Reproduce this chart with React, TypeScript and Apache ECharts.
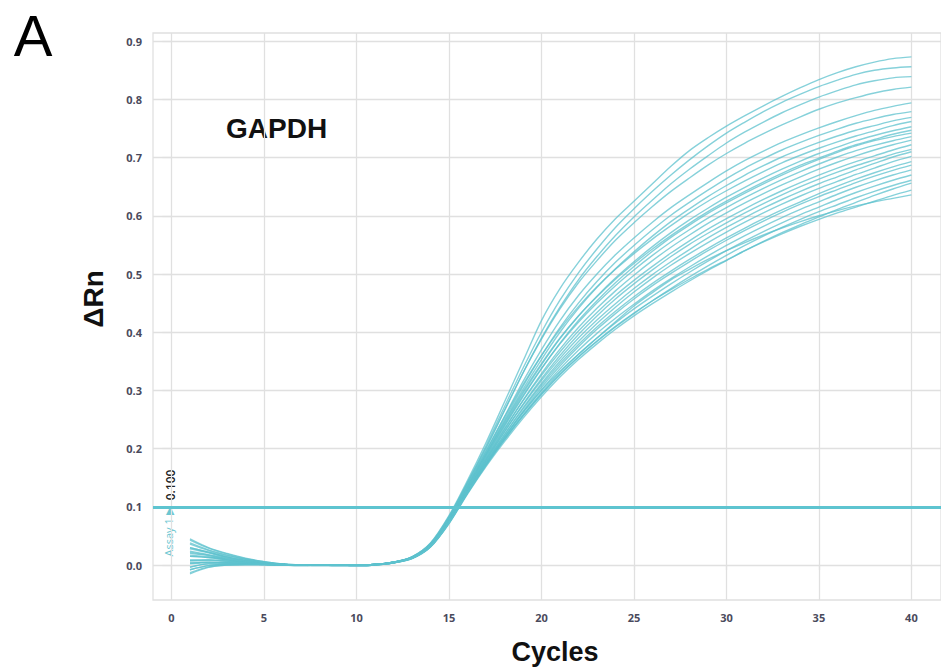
import React, { useEffect, useRef } from "react";
import * as echarts from "echarts";

const cycles = [1, 2, 3, 4, 5, 6, 7, 8, 9, 10, 11, 12, 13, 14, 15, 16, 17, 18, 19, 20, 21, 22, 23, 24, 25, 26, 27, 28, 29, 30, 31, 32, 33, 34, 35, 36, 37, 38, 39, 40];
const xTicks = [0, 5, 10, 15, 20, 25, 30, 35, 40];
const yTicks = [0, 0.1, 0.2, 0.3, 0.4, 0.5, 0.6, 0.7, 0.8, 0.9];
const threshold = 0.1;

const well01 = [0.030, 0.022, 0.014, 0.008, 0.004, 0.001, 0, 0, 0, -0.001, 0, 0.005, 0.014, 0.038, 0.085, 0.145, 0.21, 0.28, 0.35, 0.42, 0.475, 0.52, 0.56, 0.595, 0.625, 0.655, 0.685, 0.712, 0.734, 0.754, 0.772, 0.789, 0.805, 0.82, 0.834, 0.846, 0.856, 0.864, 0.87, 0.873];
const well02 = [0.045, 0.03, 0.02, 0.012, 0.006, 0.002, 0, -0.001, -0.001, -0.001, 0, 0.004, 0.014, 0.037, 0.083, 0.142, 0.205, 0.272, 0.338, 0.40, 0.455, 0.502, 0.543, 0.58, 0.612, 0.642, 0.67, 0.696, 0.72, 0.742, 0.761, 0.779, 0.795, 0.809, 0.822, 0.833, 0.843, 0.85, 0.854, 0.856];
const well03 = [0.015, 0.013, 0.009, 0.005, 0.003, 0.001, 0, 0, 0, 0, 0.001, 0.005, 0.013, 0.036, 0.082, 0.14, 0.2, 0.265, 0.33, 0.39, 0.443, 0.49, 0.53, 0.566, 0.598, 0.627, 0.655, 0.68, 0.703, 0.725, 0.744, 0.761, 0.777, 0.791, 0.804, 0.815, 0.825, 0.832, 0.837, 0.839];
const well04 = [0.038, 0.026, 0.017, 0.010, 0.005, 0.001, 0, 0, -0.001, -0.001, 0, 0.004, 0.014, 0.037, 0.083, 0.141, 0.202, 0.266, 0.33, 0.388, 0.44, 0.485, 0.523, 0.558, 0.588, 0.616, 0.642, 0.665, 0.687, 0.707, 0.725, 0.741, 0.756, 0.77, 0.783, 0.794, 0.803, 0.811, 0.817, 0.821];
const well05 = [0.003, 0.005, 0.004, 0.003, 0.002, 0, -0.001, 0, 0, 0, 0.001, 0.004, 0.013, 0.035, 0.08, 0.137, 0.195, 0.255, 0.315, 0.37, 0.42, 0.463, 0.5, 0.533, 0.562, 0.589, 0.614, 0.636, 0.657, 0.677, 0.695, 0.711, 0.726, 0.739, 0.751, 0.762, 0.772, 0.781, 0.788, 0.794];
const well06 = [0.022, 0.017, 0.011, 0.007, 0.003, 0.001, 0, 0, 0, 0, 0.001, 0.005, 0.013, 0.035, 0.079, 0.135, 0.192, 0.25, 0.307, 0.36, 0.408, 0.45, 0.487, 0.52, 0.549, 0.576, 0.601, 0.623, 0.644, 0.664, 0.682, 0.698, 0.713, 0.726, 0.738, 0.749, 0.759, 0.767, 0.774, 0.779];
const well07 = [-0.015, -0.004, 0, 0.001, 0.001, 0, 0, 0, 0, 0, 0.001, 0.004, 0.012, 0.034, 0.078, 0.134, 0.19, 0.247, 0.302, 0.353, 0.4, 0.441, 0.477, 0.509, 0.538, 0.565, 0.59, 0.612, 0.633, 0.652, 0.67, 0.686, 0.701, 0.714, 0.726, 0.737, 0.747, 0.755, 0.763, 0.769];
const well08 = [0.008, 0.009, 0.007, 0.004, 0.002, 0.001, 0, 0, 0, 0, 0.001, 0.005, 0.013, 0.035, 0.08, 0.137, 0.196, 0.254, 0.31, 0.36, 0.405, 0.444, 0.478, 0.508, 0.535, 0.56, 0.583, 0.605, 0.625, 0.643, 0.66, 0.676, 0.691, 0.704, 0.716, 0.727, 0.737, 0.746, 0.755, 0.762];
const well09 = [0.030, 0.022, 0.014, 0.008, 0.004, 0.001, -0.001, 0, 0, -0.001, 0, 0.005, 0.012, 0.034, 0.077, 0.132, 0.187, 0.242, 0.295, 0.344, 0.389, 0.428, 0.462, 0.493, 0.521, 0.547, 0.571, 0.593, 0.613, 0.632, 0.649, 0.665, 0.68, 0.694, 0.707, 0.718, 0.729, 0.738, 0.746, 0.753];
const well10 = [-0.003, 0.002, 0.002, 0.002, 0.001, 0, 0, 0, 0, 0, 0.001, 0.004, 0.013, 0.035, 0.079, 0.134, 0.19, 0.245, 0.298, 0.346, 0.39, 0.428, 0.461, 0.491, 0.518, 0.543, 0.566, 0.587, 0.607, 0.625, 0.642, 0.658, 0.673, 0.687, 0.699, 0.711, 0.722, 0.731, 0.74, 0.747];
const well11 = [0.043, 0.029, 0.019, 0.011, 0.006, 0.002, 0, -0.001, -0.001, -0.001, 0, 0.004, 0.012, 0.033, 0.076, 0.13, 0.184, 0.238, 0.289, 0.337, 0.381, 0.42, 0.454, 0.485, 0.513, 0.539, 0.563, 0.584, 0.604, 0.622, 0.639, 0.655, 0.67, 0.684, 0.697, 0.709, 0.72, 0.729, 0.736, 0.742];
const well12 = [0.015, 0.013, 0.009, 0.005, 0.003, 0.001, 0, 0, 0, 0, 0.001, 0.005, 0.013, 0.034, 0.078, 0.132, 0.187, 0.24, 0.291, 0.338, 0.38, 0.417, 0.45, 0.48, 0.507, 0.532, 0.555, 0.576, 0.596, 0.614, 0.631, 0.647, 0.662, 0.676, 0.689, 0.701, 0.712, 0.721, 0.729, 0.736];
const well13 = [-0.008, -0.001, 0.001, 0.001, 0.001, 0, 0, 0, 0, 0, 0.001, 0.005, 0.012, 0.033, 0.075, 0.128, 0.181, 0.233, 0.283, 0.329, 0.371, 0.408, 0.441, 0.471, 0.498, 0.523, 0.546, 0.567, 0.587, 0.605, 0.622, 0.638, 0.653, 0.667, 0.68, 0.692, 0.703, 0.713, 0.722, 0.73];
const well14 = [0.020, 0.016, 0.010, 0.006, 0.003, 0.001, 0, 0, 0, 0, 0.001, 0.005, 0.012, 0.034, 0.077, 0.13, 0.183, 0.234, 0.282, 0.326, 0.366, 0.402, 0.434, 0.463, 0.489, 0.513, 0.536, 0.557, 0.577, 0.595, 0.612, 0.628, 0.643, 0.657, 0.67, 0.682, 0.693, 0.703, 0.713, 0.722];
const well15 = [0.004, 0.005, 0.004, 0.003, 0.002, 0, 0, 0, 0, 0, 0.001, 0.004, 0.012, 0.033, 0.075, 0.127, 0.179, 0.229, 0.276, 0.32, 0.36, 0.396, 0.428, 0.457, 0.483, 0.507, 0.53, 0.551, 0.57, 0.588, 0.605, 0.621, 0.636, 0.65, 0.663, 0.675, 0.686, 0.696, 0.706, 0.714];
const well16 = [0.036, 0.025, 0.016, 0.010, 0.005, 0.001, 0, 0, -0.001, -0.001, 0, 0.004, 0.013, 0.034, 0.077, 0.129, 0.18, 0.229, 0.275, 0.317, 0.355, 0.39, 0.421, 0.449, 0.475, 0.499, 0.521, 0.542, 0.562, 0.58, 0.597, 0.613, 0.628, 0.642, 0.655, 0.667, 0.679, 0.69, 0.701, 0.71];
const well17 = [0.009, 0.009, 0.007, 0.004, 0.002, 0.001, 0, 0, 0, 0, 0.001, 0.005, 0.012, 0.032, 0.074, 0.126, 0.176, 0.224, 0.27, 0.312, 0.35, 0.384, 0.415, 0.443, 0.469, 0.493, 0.515, 0.535, 0.554, 0.572, 0.589, 0.605, 0.62, 0.634, 0.647, 0.659, 0.671, 0.682, 0.693, 0.702];
const well18 = [0.017, 0.014, 0.009, 0.005, 0.003, 0.001, 0, 0, 0, 0, 0.001, 0.005, 0.012, 0.033, 0.075, 0.127, 0.177, 0.224, 0.268, 0.309, 0.346, 0.379, 0.409, 0.436, 0.461, 0.484, 0.505, 0.525, 0.544, 0.562, 0.579, 0.595, 0.61, 0.624, 0.638, 0.651, 0.663, 0.674, 0.684, 0.693];
const well19 = [-0.004, 0.002, 0.002, 0.002, 0.001, 0, 0, 0, 0, 0, 0.001, 0.004, 0.012, 0.032, 0.073, 0.124, 0.173, 0.22, 0.264, 0.305, 0.342, 0.375, 0.405, 0.432, 0.457, 0.48, 0.501, 0.521, 0.54, 0.558, 0.575, 0.591, 0.606, 0.62, 0.633, 0.645, 0.657, 0.668, 0.678, 0.687];
const well20 = [0.028, 0.021, 0.013, 0.008, 0.004, 0.001, 0, 0, 0, -0.001, 0, 0.005, 0.012, 0.032, 0.074, 0.125, 0.174, 0.219, 0.262, 0.301, 0.337, 0.369, 0.398, 0.424, 0.448, 0.471, 0.492, 0.512, 0.531, 0.549, 0.566, 0.582, 0.597, 0.611, 0.624, 0.637, 0.649, 0.66, 0.67, 0.679];
const well21 = [-0.013, -0.003, 0, 0.001, 0.001, 0, 0, 0, 0, 0, 0.001, 0.004, 0.011, 0.031, 0.072, 0.123, 0.171, 0.216, 0.258, 0.296, 0.331, 0.362, 0.39, 0.416, 0.44, 0.462, 0.483, 0.503, 0.522, 0.54, 0.557, 0.573, 0.588, 0.602, 0.615, 0.628, 0.64, 0.651, 0.661, 0.67];
const well22 = [0.024, 0.018, 0.012, 0.007, 0.003, 0.001, 0, 0, 0, 0, 0.001, 0.005, 0.012, 0.032, 0.073, 0.124, 0.172, 0.216, 0.256, 0.293, 0.327, 0.357, 0.384, 0.409, 0.432, 0.454, 0.475, 0.495, 0.514, 0.532, 0.549, 0.565, 0.58, 0.594, 0.607, 0.619, 0.631, 0.642, 0.652, 0.661];
const well23 = [0.002, 0.004, 0.004, 0.003, 0.002, 0, 0, 0, 0, 0, 0.001, 0.004, 0.011, 0.031, 0.071, 0.122, 0.169, 0.212, 0.252, 0.289, 0.323, 0.353, 0.38, 0.405, 0.428, 0.449, 0.469, 0.488, 0.506, 0.523, 0.54, 0.556, 0.571, 0.585, 0.598, 0.611, 0.623, 0.635, 0.646, 0.656];
const well24 = [0.007, 0.008, 0.006, 0.004, 0.002, 0.001, 0, 0, 0, 0, 0.001, 0.005, 0.012, 0.032, 0.073, 0.124, 0.172, 0.215, 0.256, 0.294, 0.328, 0.358, 0.385, 0.41, 0.433, 0.454, 0.473, 0.491, 0.508, 0.524, 0.54, 0.555, 0.569, 0.582, 0.594, 0.605, 0.615, 0.625, 0.635, 0.644];
const well25 = [-0.008, -0.001, 0.001, 0.001, 0.001, 0, 0, 0, 0, 0, 0.001, 0.005, 0.012, 0.032, 0.072, 0.125, 0.175, 0.22, 0.262, 0.30, 0.333, 0.362, 0.39, 0.418, 0.445, 0.468, 0.49, 0.508, 0.525, 0.54, 0.554, 0.567, 0.579, 0.59, 0.6, 0.609, 0.617, 0.624, 0.63, 0.636];

const wells = [well01, well02, well03, well04, well05, well06, well07, well08, well09, well10, well11, well12, well13, well14, well15, well16, well17, well18, well19, well20, well21, well22, well23, well24, well25];

const curveColor = "rgba(94,193,206,0.75)";
const thresholdColor = "#5ec4d0";
const gridColor = "#e0e0e0";
const tickFont = { fontFamily: "Open Sans", fontWeight: 700 as const, fontSize: 11, color: "#4a4a5c" };

export default function App() {
  const ref = useRef<HTMLDivElement>(null);
  useEffect(() => {
    if (!ref.current) return;
    const chart = echarts.init(ref.current, null, { renderer: "svg" });
    const series: any[] = wells.map((w, i) => ({
      type: "line",
      data: w.map((v, j) => [cycles[j], v]),
      symbol: "none",
      showSymbol: false,
      smooth: 0.3,
      silent: true,
      lineStyle: { color: curveColor, width: 1.4 },
      z: 2,
      ...(i === wells.length - 1
        ? {
            markLine: {
              silent: true,
              symbol: ["none", "none"],
              label: { show: false },
              lineStyle: { color: thresholdColor, width: 3, type: "solid", opacity: 1 },
              data: [{ yAxis: threshold }],
            },
          }
        : {}),
    }));
    chart.setOption({
      animation: false,
      grid: {
        left: 153,
        top: 33,
        right: -1,
        bottom: 71,
        show: true,
        borderColor: gridColor,
        borderWidth: 1.3,
        containLabel: false,
      },
      xAxis: {
        type: "value",
        min: -1,
        max: 41.6,
        axisLine: { show: false },
        axisTick: { show: true, length: 5, lineStyle: { color: gridColor, width: 1.3 }, customValues: xTicks },
        axisLabel: { ...tickFont, margin: 12, customValues: xTicks, formatter: (v: number) => String(v) },
        splitLine: { show: true, lineStyle: { color: gridColor, width: 1.3 } },
      },
      yAxis: {
        type: "value",
        min: -0.06,
        max: 0.914,
        axisLine: { show: false },
        axisTick: { show: true, length: 9, lineStyle: { color: gridColor, width: 1.3 }, customValues: yTicks },
        axisLabel: { ...tickFont, margin: 11, customValues: yTicks, formatter: (v: number) => v.toFixed(1) },
        splitLine: { show: true, lineStyle: { color: gridColor, width: 1.3 } },
      },
      graphic: [
        { type: "text", x: 33, y: 35, style: { text: "A", font: "normal 58px 'Liberation Sans'", fill: "#000", align: "center", verticalAlign: "middle" } },
        { type: "text", x: 226, y: 128, style: { text: "GAPDH", font: "bold 28px 'Liberation Sans'", fill: "#111", align: "left", verticalAlign: "middle" } },
        { type: "text", x: 93, y: 299, rotation: Math.PI / 2, style: { text: "ΔRn", font: "bold 28px 'Liberation Sans'", fill: "#111", align: "center", verticalAlign: "middle" } },
        { type: "text", x: 555, y: 652, style: { text: "Cycles", font: "bold 27px 'Liberation Sans'", fill: "#111", align: "center", verticalAlign: "middle" } },
        { type: "text", x: 170, y: 485, rotation: Math.PI / 2, style: { text: "0.100", font: "600 12px 'Open Sans'", fill: "#222", align: "center", verticalAlign: "middle" } },
        { type: "text", x: 168, y: 532, rotation: Math.PI / 2, style: { text: "Assay 1 ▶", font: "normal 11px 'Open Sans'", fill: "#6cc7d2", align: "center", verticalAlign: "middle" } },
      ],
      series,
    });
    return () => chart.dispose();
  }, []);
  return <div ref={ref} style={{ position: "fixed", left: 0, top: 0, width: 941, height: 671, background: "#fff" }} />;
}
